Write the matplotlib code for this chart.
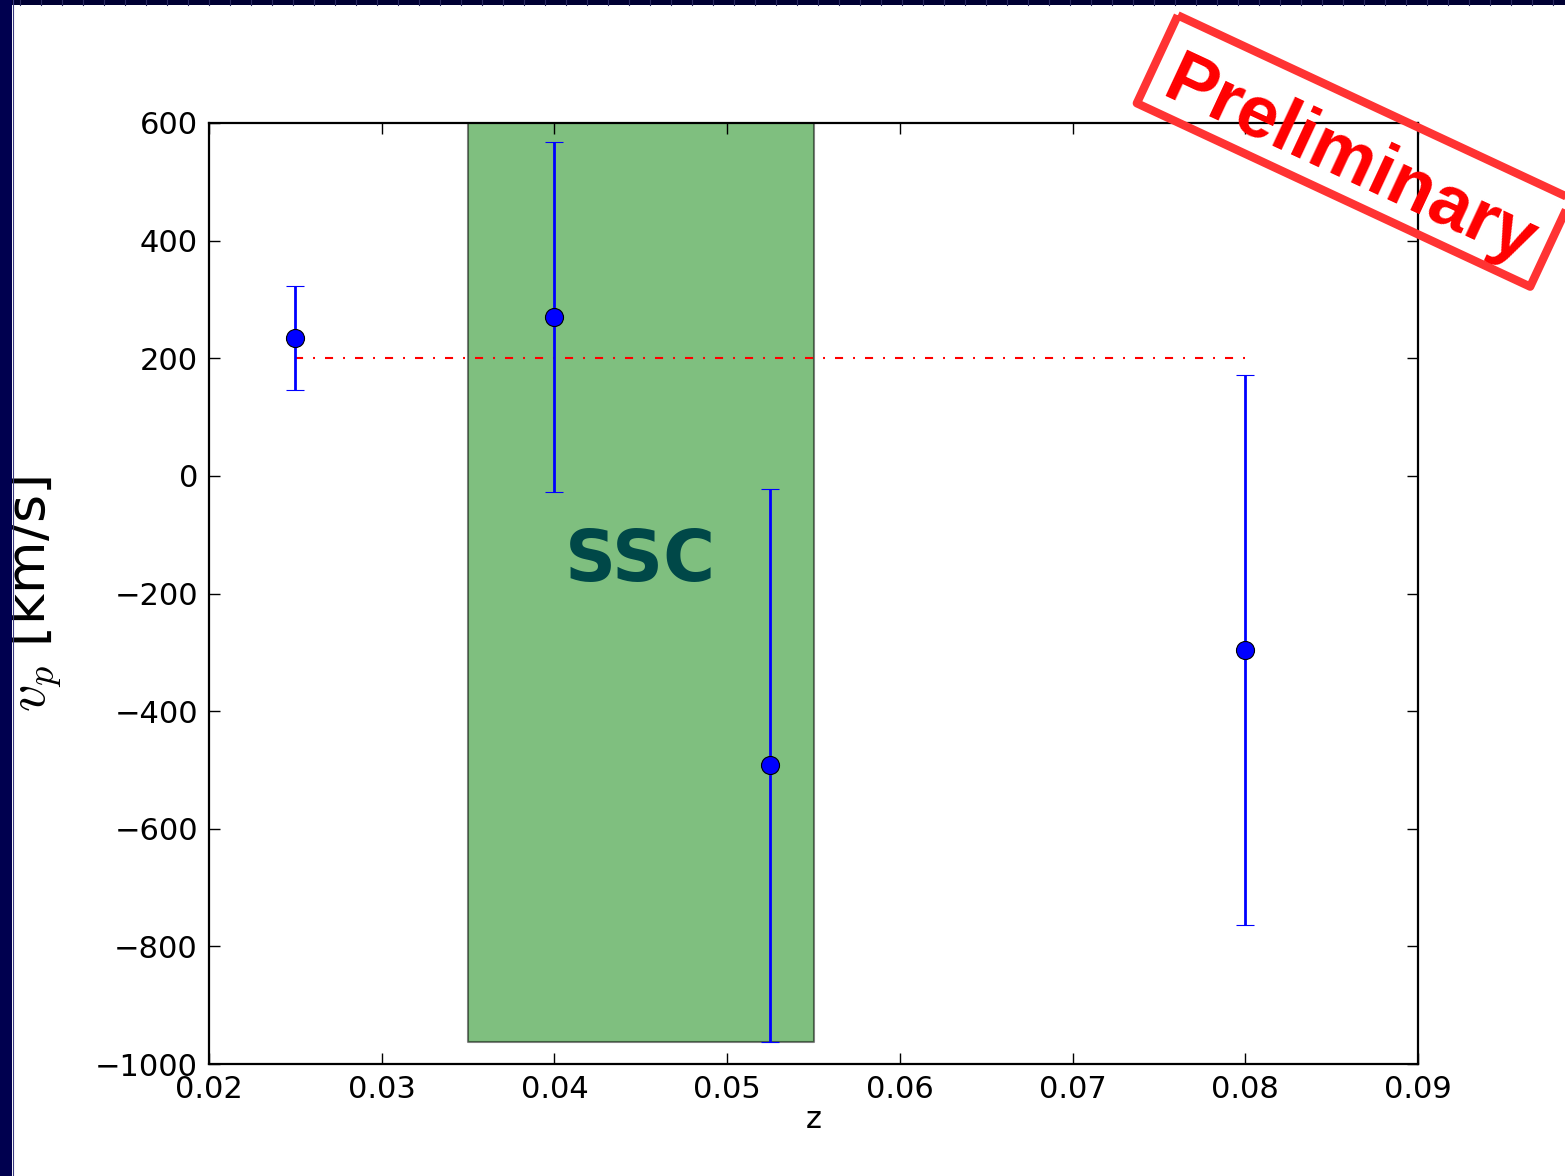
import matplotlib
matplotlib.use("Agg")
import matplotlib.pyplot as plt
import numpy as np
from matplotlib.patches import Polygon, Rectangle

# Peculiar velocity estimates per redshift bin
z_bins = [0.025, 0.040, 0.0525, 0.080]
v_pec = [234, 270, -492, -296]
v_err = [88, 298, 470, 467]

# Reference level shown as a dash-dot line
ref_level = 200
ref_z = [0.025, 0.080]

# Redshift range of the SSC
ssc_z = [0.035, 0.055]
ssc_v = [-962, 700]

x_ticks = [0.02, 0.03, 0.04, 0.05, 0.06, 0.07, 0.08, 0.09]
y_ticks = [-1000, -800, -600, -400, -200, 0, 200, 400, 600]

plt.rcParams["mathtext.fontset"] = "cm"
plt.rcParams["lines.scale_dashes"] = False

W, H = 1565, 1176
fig = plt.figure(figsize=(W / 100, H / 100), dpi=100)
fig.patch.set_facecolor("white")

ax = fig.add_axes([209 / W, 1 - 1064 / H, (1418 - 209) / W, (1064 - 123) / H])

# SSC band
ax.fill_between(ssc_z, ssc_v[0], ssc_v[1], facecolor="green", edgecolor="black",
                alpha=0.5, linewidth=1.5, zorder=1)
ax.text(np.mean(ssc_z), -145, "SSC", color="#004848", fontsize=51,
        fontweight="bold", ha="center", va="center", zorder=2)

# Reference line
ax.plot(ref_z, [ref_level, ref_level], color="red", linewidth=1.5,
        dashes=(5.8, 7.2, 1.4, 7.2), zorder=3)

# Data with error bars
ax.errorbar(z_bins, v_pec, yerr=v_err, fmt="o", color="blue", ecolor="blue",
            markersize=13, markeredgecolor="black", markeredgewidth=0.8,
            elinewidth=2.0, capsize=6.5, capthick=1.4, zorder=4)

ax.set_xlim(0.02, 0.09)
ax.set_ylim(-1000, 600)
ax.set_xticks(x_ticks)
ax.set_yticks(y_ticks)
ax.set_xticklabels([f"{t:g}" for t in x_ticks])
ax.tick_params(direction="in", top=True, right=True, length=8, width=1.0,
               pad=8, labelsize=22, colors="black")
for s in ax.spines.values():
    s.set_linewidth(1.6)

ax.set_xlabel("z", fontsize=22, labelpad=1)
ax.set_ylabel(r"$v_p$ [km/s]", fontsize=39)
ax.yaxis.set_label_coords(-0.121, 0.5)

# Overlay in pixel coordinates for the frame and the stamp
ov = fig.add_axes([0, 0, 1, 1], zorder=10)
ov.set_xlim(0, W)
ov.set_ylim(H, 0)
ov.axis("off")
ov.patch.set_alpha(0)

ov.add_patch(Rectangle((0, 0), W, 5, facecolor="#000033", edgecolor="none"))
for gx in np.arange(20, W, 21):
    ov.plot([gx, gx], [0, 5], color="#2a2a60", linewidth=0.8)
ov.add_patch(Rectangle((0, 0), 12, H, facecolor="#00004f", edgecolor="none"))
ov.plot([12.5, 12.5], [0, H], color="#3a3a80", linewidth=0.8)

# "Preliminary" stamp
ang = np.deg2rad(25)
u = np.array([np.cos(ang), np.sin(ang)])
n = np.array([-np.sin(ang), np.cos(ang)])
c = np.array([1354, 151])
hw, hh = 217, 48.5
corners = [c - hw * u - hh * n, c + hw * u - hh * n,
           c + hw * u + hh * n, c - hw * u + hh * n]
ov.add_patch(Polygon(corners, closed=True, fill=False, edgecolor="#ff3333",
                     linewidth=6, joinstyle="round"))
ov.text(1341, 180, "Preliminary", color="#ff0000", fontsize=53,
        fontweight="bold", family="Liberation Sans", rotation=-25,
        rotation_mode="anchor", ha="center", va="baseline")

fig.savefig("out.png", dpi=100)
